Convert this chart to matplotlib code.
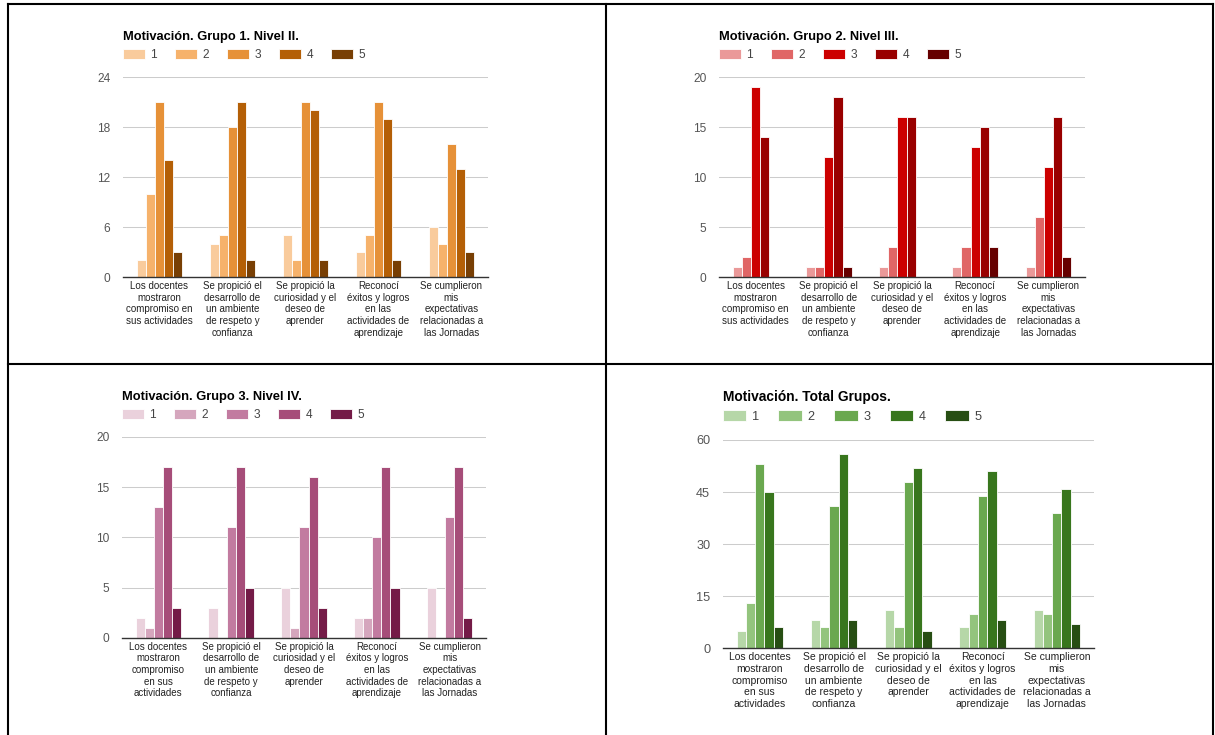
import matplotlib as mpl
mpl.use('Agg')
import matplotlib.pyplot as plt
import numpy as np
from matplotlib.lines import Line2D

plt.rcParams['font.family'] = ['Liberation Sans', 'DejaVu Sans']

levels = ["1", "2", "3", "4", "5"]

labels_top = ["Los docentes\nmostraron\ncompromiso en\nsus actividades",
              "Se propició el\ndesarrollo de\nun ambiente\nde respeto y\nconfianza",
              "Se propició la\ncuriosidad y el\ndeseo de\naprender",
              "Reconocí\néxitos y logros\nen las\nactividades de\naprendizaje",
              "Se cumplieron\nmis\nexpectativas\nrelacionadas a\nlas Jornadas"]
labels_bottom = ["Los docentes\nmostraron\ncompromiso\nen sus\nactividades"] + labels_top[1:]

# one row per statement, one column per answer 1..5
grupo1 = [[2, 10, 21, 14, 3],
          [4, 5, 18, 21, 2],
          [5, 2, 21, 20, 2],
          [3, 5, 21, 19, 2],
          [6, 4, 16, 13, 3]]
grupo2 = [[1, 2, 19, 14, 0],
          [1, 1, 12, 18, 1],
          [1, 3, 16, 16, 0],
          [1, 3, 13, 15, 3],
          [1, 6, 11, 16, 2]]
grupo3 = [[2, 1, 13, 17, 3],
          [3, 0, 11, 17, 5],
          [5, 1, 11, 16, 3],
          [2, 2, 10, 17, 5],
          [5, 0, 12, 17, 2]]
total = [[5, 13, 53, 45, 6],
         [8, 6, 41, 56, 8],
         [11, 6, 48, 52, 5],
         [6, 10, 44, 51, 8],
         [11, 10, 39, 46, 7]]

orange = ["#f9cb9c", "#f6b26b", "#e69138", "#b45f06", "#783f04"]
red = ["#ea9999", "#e06666", "#cc0000", "#990000", "#660000"]
magenta = ["#ead1dc", "#d5a6bd", "#c27ba0", "#a64d79", "#741b47"]
green = ["#b6d7a8", "#93c47d", "#6aa84f", "#38761d", "#274e13"]


def draw_panel(fig, rect, title, data, colors, ymax, step, xlabels, s=1.0):
    ax = fig.add_axes(rect)
    counts = np.array(data).T
    x = np.arange(len(xlabels))
    w = 0.125
    for i, lv in enumerate(levels):
        ax.bar(x + (i - 2) * w, counts[i], w, color=colors[i],
               edgecolor='white', linewidth=0.6, label=lv, zorder=3)
    ax.set_xlim(-0.5, len(xlabels) - 0.5)
    ax.set_ylim(0, ymax)
    ax.set_yticks(np.arange(0, ymax + 1, step))
    ax.set_xticks(x)
    ax.set_xticklabels(xlabels, fontsize=7 * s, color='#222222', linespacing=1.2)
    ax.tick_params(axis='x', length=0, pad=3.0)
    ax.tick_params(axis='y', length=0, pad=9, labelsize=8.6 * s, labelcolor='#555555')
    ax.set_axisbelow(True)
    ax.grid(axis='y', color='#cccccc', linewidth=0.75)
    for sp in ['left', 'right', 'top']:
        ax.spines[sp].set_visible(False)
    ax.spines['bottom'].set_color('#333333')
    ax.spines['bottom'].set_linewidth(1.0)
    ax.spines['bottom'].set_zorder(4)

    h = ax.bbox.height
    ax.text(0, 1 + 40 * s / h, title, transform=ax.transAxes, fontsize=9.3 * s,
            fontweight='bold', va='center', ha='left')
    ax.legend(loc='center left', bbox_to_anchor=(0, 1 + 22 * s / h), ncol=5,
              frameon=False, fontsize=8.6 * s, handlelength=1.85, handleheight=0.9,
              handletextpad=0.45, columnspacing=1.5, borderpad=0, borderaxespad=0,
              labelcolor='#444444')
    return ax


def draw_borders(fig):
    W, H = 1215.0, 735.0
    segs = [((7.5, 7.5), (3.5, 735)),
            ((605.7, 605.7), (3.5, 735)),
            ((1213, 1213), (3.5, 735)),
            ((7.5, 1213), (3.5, 3.5)),
            ((7.5, 1213), (363.7, 363.7))]
    for xs, ys in segs:
        fig.add_artist(Line2D([v / W for v in xs], [1 - v / H for v in ys],
                              transform=fig.transFigure, color='black', lw=1.5))


def main():
    fig = plt.figure(figsize=(12.15, 7.35), dpi=100)
    fig.patch.set_facecolor('white')

    draw_panel(fig, [0.1012, 0.6231, 0.3004, 0.2721], "Motivación. Grupo 1. Nivel II.",
               grupo1, orange, 24, 6, labels_top)
    draw_panel(fig, [0.5918, 0.6231, 0.3012, 0.2721], "Motivación. Grupo 2. Nivel III.",
               grupo2, red, 20, 5, labels_top)
    draw_panel(fig, [0.1004, 0.1324, 0.2996, 0.2731], "Motivación. Grupo 3. Nivel IV.",
               grupo3, magenta, 20, 5, labels_bottom)
    draw_panel(fig, [0.5948, 0.1180, 0.3056, 0.2834], "Motivación. Total Grupos.",
               total, green, 60, 15, labels_bottom, s=1.07)

    draw_borders(fig)
    fig.savefig("out.png", dpi=100)
    plt.close(fig)


main()
